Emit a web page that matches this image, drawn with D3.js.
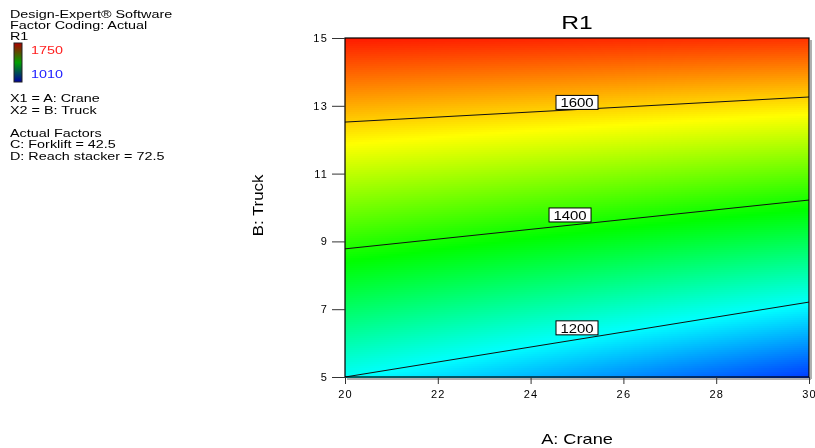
<!DOCTYPE html>
<html>
<head>
<meta charset="utf-8">
<script src="https://cdn.jsdelivr.net/npm/d3@7"></script>
<style>
	body { margin: 0; background: #fff; font-family: "Liberation Sans", Arial, sans-serif; }
	#wrap { position: relative; width: 815px; height: 448px; overflow: hidden; }
	#wrap canvas, #wrap svg { position: absolute; left: 0; top: 0; }
</style>
</head>
<body>
<div id="wrap"><canvas id="surf" width="815" height="448"></canvas></div>
<script>
// values
const xTicks = [20, 22, 24, 26, 28, 30];
const yTicks = [5, 7, 9, 11, 13, 15];
const colorStops = [1010, 1195, 1380, 1565, 1750];
const colorRange = ["#0000ff", "#00ffff", "#00ff00", "#ffff00", "#ff0000"];
// fitted surface R1 = b0 + bA*A + bB*B + bAB*A*B
const coef = [1354, -21, 27.6, 1.28];
const contourLevels = [1200, 1400, 1600];
const contourA = [20, 30];
const contourB = [[5.0, 7.21], [8.78, 10.22], [12.52, 13.26]];
const labelPos = [[25.0, 6.45], [24.85, 9.78], [25.0, 13.1]];
const legendLines = ["Design-Expert® Software", "Factor Coding: Actual", "R1"];
const factorLines = ["X1 = A: Crane", "X2 = B: Truck", "", "Actual Factors", "C: Forklift = 42.5", "D: Reach stacker = 72.5"];

const m = { l: 345, r: 809, t: 38, b: 377 };
const x = d3.scaleLinear().domain([20, 30]).range([m.l, m.r]);
const y = d3.scaleLinear().domain([5, 15]).range([m.b, m.t]);
const color = d3.scaleLinear().domain(colorStops).range(colorRange).clamp(true);
const r1 = (a, b) => coef[0] + coef[1] * a + coef[2] * b + coef[3] * a * b;

// surface
const ctx = document.getElementById("surf").getContext("2d");
for (let px = m.l; px < m.r; px += 2) {
	for (let py = m.t; py < m.b; py += 2) {
		ctx.fillStyle = color(r1(x.invert(px + 1), y.invert(py + 1)));
		ctx.fillRect(px, py, 2, 2);
	}
}

const svg = d3.select("#wrap").append("svg").attr("width", 815).attr("height", 448)
	.style("font-family", '"Liberation Sans", Arial, sans-serif');

// wide text, the way the original renders it
function wideText(parent, tx, ty, str, size, sx, anchor) {
	return parent.append("text")
		.attr("transform", `translate(${tx},${ty}) scale(${sx},1)`)
		.attr("text-anchor", anchor || "start")
		.attr("font-size", size)
		.text(str);
}

// shadow
svg.append("line").attr("x1", m.r + 2).attr("x2", m.r + 2).attr("y1", m.t + 2).attr("y2", m.b + 2)
	.attr("stroke", "#b0b0b0").attr("stroke-width", 2);
svg.append("line").attr("x1", m.l + 2).attr("x2", m.r + 2).attr("y1", m.b + 2).attr("y2", m.b + 2)
	.attr("stroke", "#b0b0b0").attr("stroke-width", 2);

// contour lines
const line = d3.line().x((d) => x(d[0])).y((d) => y(d[1]));
contourLevels.forEach((lv, i) => {
	svg.append("path")
		.attr("d", line(contourA.map((a, j) => [a, contourB[i][j]])))
		.attr("fill", "none").attr("stroke", "#111").attr("stroke-width", 1);
	const g = svg.append("g").attr("transform", `translate(${x(labelPos[i][0])},${y(labelPos[i][1])})`);
	g.append("rect").attr("x", -21).attr("y", -7).attr("width", 42).attr("height", 14)
		.attr("fill", "#fff").attr("stroke", "#000").attr("stroke-width", 1);
	wideText(g, 0, 5, lv, 13, 1.15, "middle");
});

// frame
svg.append("rect").attr("x", m.l).attr("y", m.t).attr("width", m.r - m.l).attr("height", m.b - m.t)
	.attr("fill", "none").attr("stroke", "#000").attr("stroke-width", 1.2);

// axes
const xAxis = svg.append("g").attr("transform", `translate(0,${m.b})`)
	.call(d3.axisBottom(x).tickValues(xTicks).tickSize(7).tickPadding(6));
const yAxis = svg.append("g").attr("transform", `translate(${m.l},0)`)
	.call(d3.axisLeft(y).tickValues(yTicks).tickSize(13).tickPadding(4));
[xAxis, yAxis].forEach((ax) => {
	ax.select(".domain").remove();
	ax.selectAll("line").attr("stroke", "#333");
	ax.selectAll("text").attr("font-size", 11).attr("font-family", '"Liberation Sans", Arial, sans-serif')
		.attr("fill", "#000").attr("letter-spacing", 1.2);
});

wideText(svg, (m.l + m.r) / 2, 29, "R1", 19, 1.3, "middle");
wideText(svg, (m.l + m.r) / 2, 444, "A: Crane", 14, 1.3, "middle");
svg.append("text").attr("transform", `translate(263,${(m.t + m.b) / 2 - 2}) rotate(-90) scale(1.2,1)`)
	.attr("text-anchor", "middle").attr("font-size", 14).text("B: Truck");

// legend
const leg = svg.append("g");
legendLines.forEach((t, i) => wideText(leg, 10, 18 + i * 11, t, 11.5, 1.25));
const grad = svg.append("defs").append("linearGradient").attr("id", "cb")
	.attr("x1", 0).attr("y1", 1).attr("x2", 0).attr("y2", 0);
["#0000a0", "#00a000", "#b00000"].forEach((c, i) =>
	grad.append("stop").attr("offset", i / 2).attr("stop-color", c));
leg.append("rect").attr("x", 14).attr("y", 43).attr("width", 8).attr("height", 39)
	.attr("fill", "url(#cb)").attr("stroke", "#222").attr("stroke-width", 1);
wideText(leg, 31, 54, colorStops[4], 11.5, 1.25).attr("fill", "#ff2020");
wideText(leg, 31, 78, colorStops[0], 11.5, 1.25).attr("fill", "#2020ff");
factorLines.forEach((t, i) => wideText(leg, 10, 102 + i * 11.5, t, 11.5, 1.25));
</script>
</body>
</html>
